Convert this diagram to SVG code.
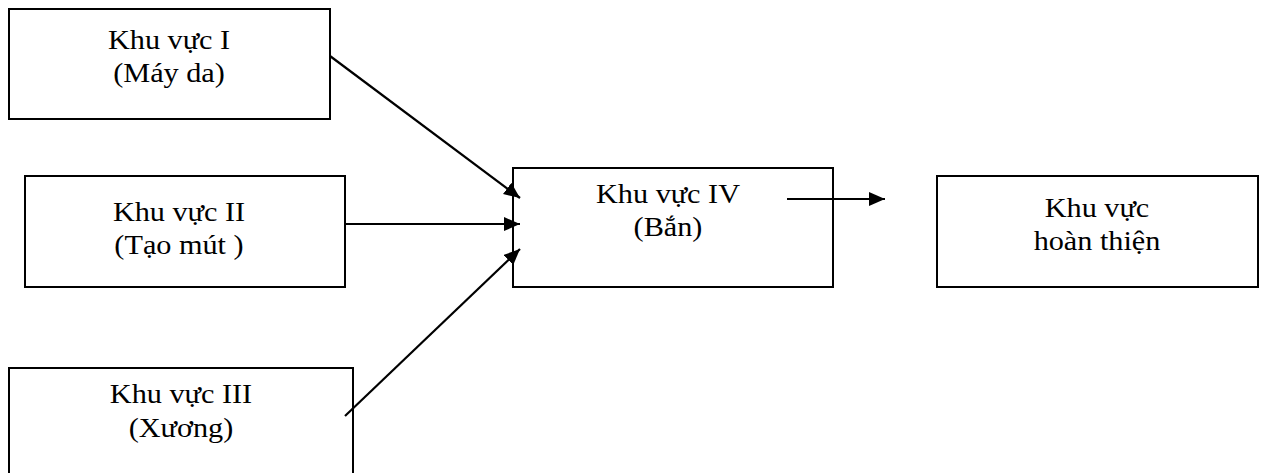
<svg xmlns="http://www.w3.org/2000/svg" width="1265" height="473" viewBox="0 0 1265 473">
<style>
.box{fill:#fff;stroke:#000;stroke-width:2}
.t{font-family:"Liberation Serif","Times New Roman",serif;font-size:28px;fill:#000;text-anchor:middle}
.c{stroke:#000;stroke-width:2.2;fill:none;marker-end:url(#ah)}
</style>
<defs>
<marker id="ah" markerUnits="userSpaceOnUse" markerWidth="18" markerHeight="16" refX="16" refY="7" orient="auto">
<path d="M0,0 L16,7 L0,14 z" fill="#000"/>
</marker>
</defs>
<rect width="1265" height="473" fill="#fff"/>
<g id="n1">
<rect class="box" x="9" y="9" width="321" height="110"/>
<g transform="translate(169,0) scale(1.08,1)"><text class="t" x="0" y="49">Khu vực I</text><text class="t" x="0" y="82">(Máy da)</text></g>
</g>
<g id="n2">
<rect class="box" x="25" y="176" width="320" height="111"/>
<g transform="translate(179,0) scale(1.08,1)"><text class="t" x="0" y="221">Khu vực II</text><text class="t" x="0" y="254">(Tạo mút )</text></g>
</g>
<g id="n3">
<rect class="box" x="9" y="368" width="344" height="120"/>
<g transform="translate(181,0) scale(1.08,1)"><text class="t" x="0" y="403">Khu vực III</text><text class="t" x="0" y="437">(Xương)</text></g>
</g>
<g id="n4">
<rect class="box" x="513" y="168" width="320" height="119"/>
<g transform="translate(668,0) scale(1.08,1)"><text class="t" x="0" y="203">Khu vực IV</text><text class="t" x="0" y="236">(Bắn)</text></g>
</g>
<g id="n5">
<rect class="box" x="937" y="176" width="321" height="111"/>
<g transform="translate(1097,0) scale(1.08,1)"><text class="t" x="0" y="217">Khu vực</text><text class="t" x="0" y="250">hoàn thiện</text></g>
</g>
<g id="connectors">
<line class="c" x1="330" y1="56" x2="520" y2="198"/>
<line class="c" x1="345" y1="224" x2="520" y2="224"/>
<line class="c" x1="345" y1="416" x2="520" y2="249"/>
<line class="c" x1="787" y1="199" x2="885" y2="199"/>
</g>
</svg>
